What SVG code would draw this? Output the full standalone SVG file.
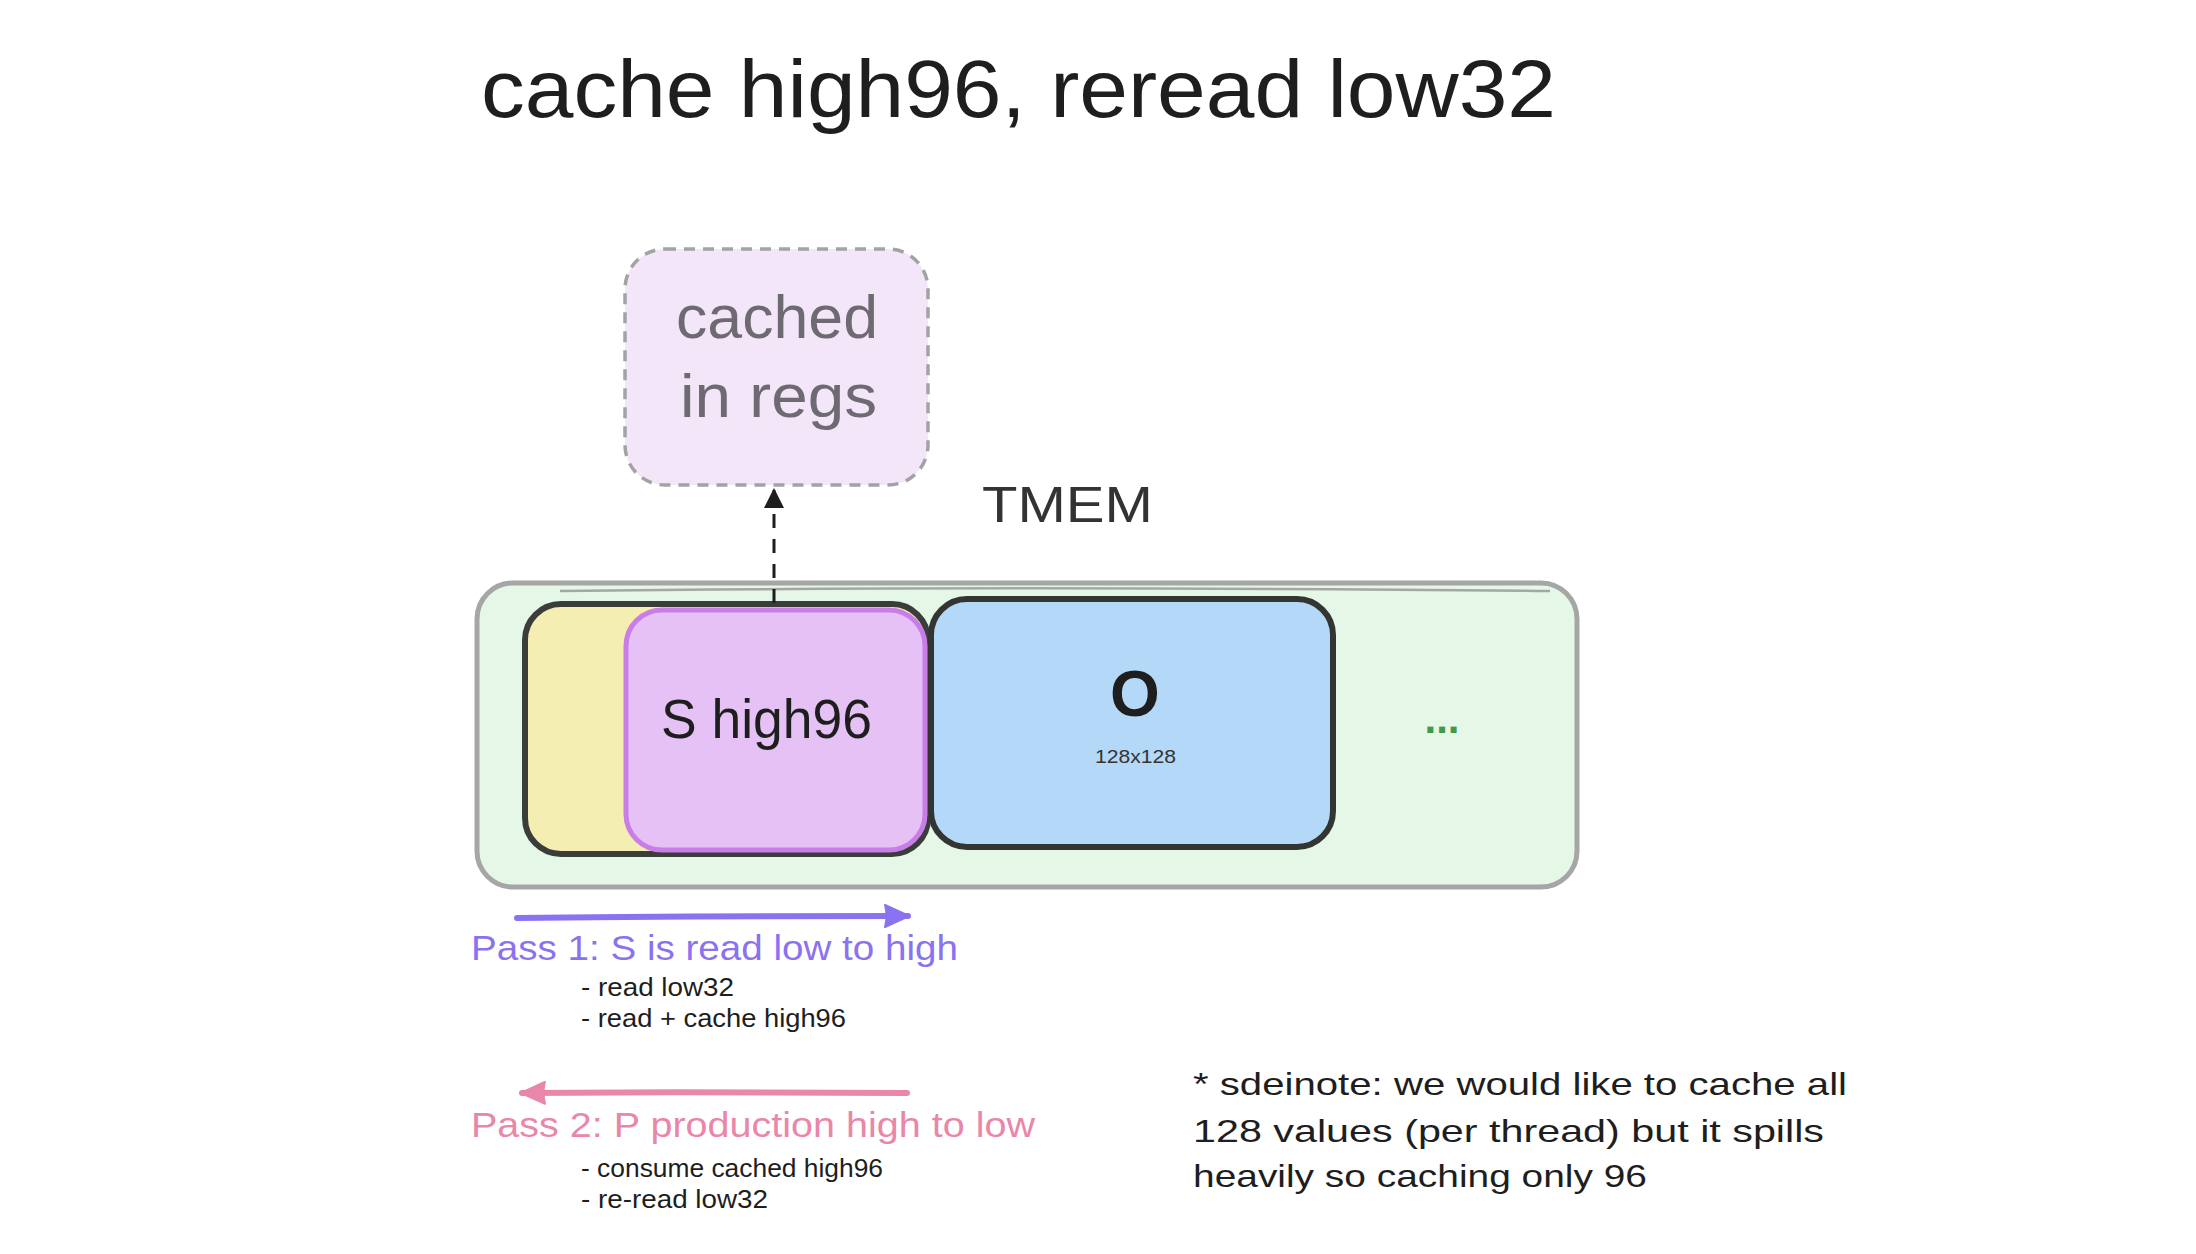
<svg xmlns="http://www.w3.org/2000/svg" width="2196" height="1254" viewBox="0 0 2196 1254">
<style>
text { font-family: "Liberation Sans", "Noto Sans", sans-serif; }
.dark { fill: #1e1e1e; }
.sub { font-size: 26px; fill: #1e1e1e; }
.note { font-size: 32px; fill: #1e1e1e; }
.p1 { fill: #8b72f0; font-size: 35px; }
.p2 { fill: #e887a9; font-size: 35px; }
</style>
<defs>
<marker id="hd-black" viewBox="0 0 20 20" refX="18" refY="10" markerWidth="20" markerHeight="20" markerUnits="userSpaceOnUse" orient="auto">
<path d="M0,0 L20,10 L0,20 Z" fill="#1e1e1e"/>
</marker>
<marker id="hd-purple" viewBox="0 0 26 24" refX="24" refY="12" markerWidth="26" markerHeight="24" markerUnits="userSpaceOnUse" orient="auto">
<path d="M1,1 L25,12 L1,23 Q4,12 1,1 Z" fill="#8b72f0" stroke="#8b72f0" stroke-width="2" stroke-linejoin="round"/>
</marker>
<marker id="hd-pink" viewBox="0 0 26 24" refX="24" refY="12" markerWidth="26" markerHeight="24" markerUnits="userSpaceOnUse" orient="auto">
<path d="M1,1 L25,12 L1,23 Q4,12 1,1 Z" fill="#e887a9" stroke="#e887a9" stroke-width="2" stroke-linejoin="round"/>
</marker>
</defs>
<rect x="0" y="0" width="2196" height="1254" fill="#ffffff"/>

<g id="title">
<text x="481" y="117" font-size="82" class="dark" textLength="1075" lengthAdjust="spacingAndGlyphs">cache high96, reread low32</text>
</g>

<g id="tmem">
<rect x="477" y="583" width="1100" height="304" rx="36" fill="#e5f7e6" stroke="#a6a6a6" stroke-width="5"/>
<path d="M560,591 C900,587 1250,588 1550,591" fill="none" stroke="#a6a6a6" stroke-width="2.5"/>
<text x="982" y="522" font-size="50" fill="#333333" textLength="171" lengthAdjust="spacingAndGlyphs">TMEM</text>
<text x="1442" y="733" font-size="42" fill="#3f9b47" text-anchor="middle" font-weight="bold">...</text>
</g>

<g id="s-low">
<rect x="525" y="604" width="403" height="250" rx="36" fill="#f5eeb2" stroke="#3a3d3a" stroke-width="6"/>
</g>

<g id="s-high96">
<rect x="626" y="610" width="299" height="240" rx="36" fill="#e6c1f6" stroke="#c97de8" stroke-width="5"/>
<text x="661" y="738" font-size="56" class="dark" textLength="211" lengthAdjust="spacingAndGlyphs">S high96</text>
</g>

<g id="o">
<rect x="931" y="599" width="402" height="248" rx="36" fill="#b4d9f8" stroke="#333533" stroke-width="6"/>
<text x="1135" y="716" font-size="64" class="dark" text-anchor="middle" font-weight="bold">O</text>
<text x="1095" y="763" font-size="19" fill="#333333" textLength="81" lengthAdjust="spacingAndGlyphs">128x128</text>
</g>

<g id="cached">
<rect x="625" y="249" width="303" height="236" rx="40" fill="#f3e6f9" stroke="#a3a3a3" stroke-width="3.5" stroke-dasharray="11 8"/>
<text x="676" y="338" font-size="62" fill="#6e6a72" textLength="202" lengthAdjust="spacingAndGlyphs">cached</text>
<text x="680" y="417" font-size="62" fill="#6e6a72" textLength="197" lengthAdjust="spacingAndGlyphs">in regs</text>
</g>

<g id="connectors">
<path d="M774,603 L774,490" fill="none" stroke="#1e1e1e" stroke-width="3" stroke-dasharray="14 11" marker-end="url(#hd-black)"/>
<path d="M517,918 C650,916 800,916 908,916" fill="none" stroke="#8b72f0" stroke-width="6" stroke-linecap="round" marker-end="url(#hd-purple)"/>
<path d="M907,1093 C780,1092 650,1092 522,1093" fill="none" stroke="#e887a9" stroke-width="6" stroke-linecap="round" marker-end="url(#hd-pink)"/>
</g>

<g id="pass1">
<text x="471" y="960" class="p1" textLength="487" lengthAdjust="spacingAndGlyphs">Pass 1: S is read low to high</text>
<text x="581" y="996" class="sub" textLength="153" lengthAdjust="spacingAndGlyphs">- read low32</text>
<text x="581" y="1027" class="sub" textLength="265" lengthAdjust="spacingAndGlyphs">- read + cache high96</text>
</g>

<g id="pass2">
<text x="471" y="1137" class="p2" textLength="564" lengthAdjust="spacingAndGlyphs">Pass 2: P production high to low</text>
<text x="581" y="1177" class="sub" textLength="302" lengthAdjust="spacingAndGlyphs">- consume cached high96</text>
<text x="581" y="1208" class="sub" textLength="187" lengthAdjust="spacingAndGlyphs">- re-read low32</text>
</g>

<g id="sidenote">
<text x="1193" y="1095" class="note" textLength="654" lengthAdjust="spacingAndGlyphs">* sdeinote: we would like to cache all</text>
<text x="1193" y="1142" class="note" textLength="631" lengthAdjust="spacingAndGlyphs">128 values (per thread) but it spills</text>
<text x="1193" y="1187" class="note" textLength="454" lengthAdjust="spacingAndGlyphs">heavily so caching only 96</text>
</g>
</svg>
